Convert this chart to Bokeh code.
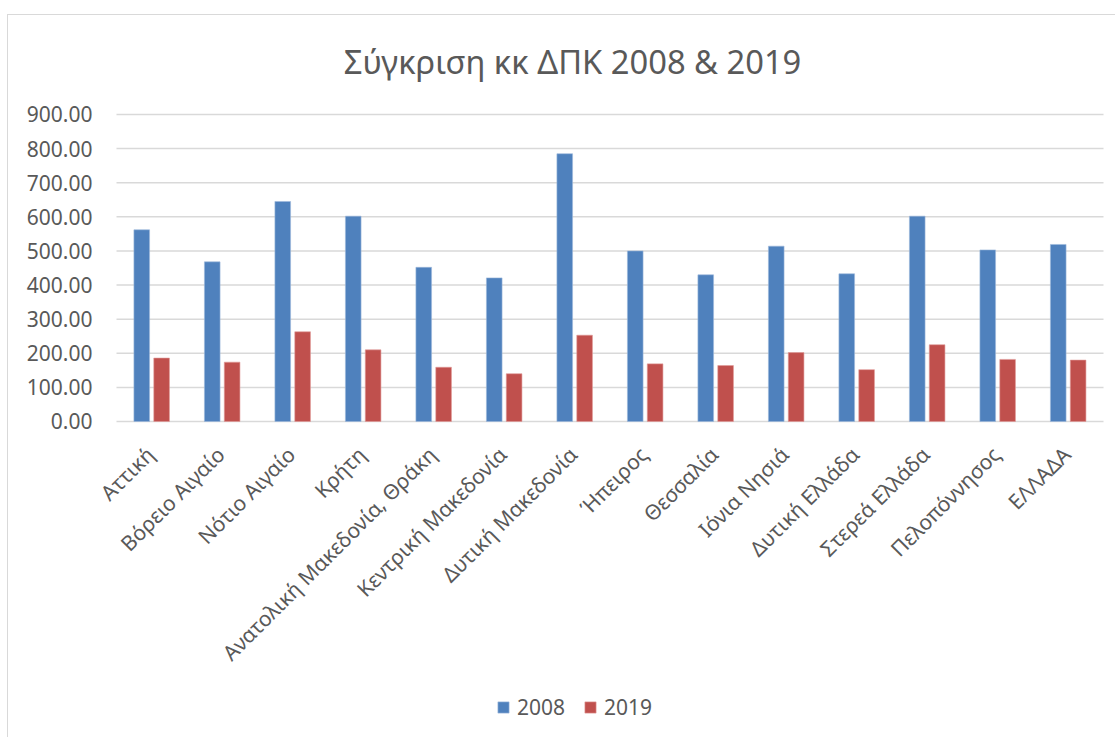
import math
from bokeh.plotting import figure
from bokeh.layouts import column, row
from bokeh.models import (Range1d, NumeralTickFormatter, Legend, LegendItem, Label,
                          FixedTicker, ColumnDataSource, Spacer)
from bokeh.transform import dodge
from bokeh.core.properties import value
from bokeh.embed import file_html
from bokeh.resources import INLINE

regions = ["Αττική", "Βόρειο Αιγαίο", "Νότιο Αιγαίο", "Κρήτη",
           "Ανατολική Μακεδονία, Θράκη", "Κεντρική Μακεδονία", "Δυτική Μακεδονία",
           "Ήπειρος", "Θεσσαλία", "Ιόνια Νησιά", "Δυτική Ελλάδα", "Στερεά Ελλάδα",
           "Πελοπόννησος", "ΕΛΛΑΔΑ"]
v2008 = [562, 468, 645, 602, 452, 421, 785, 500, 430, 514, 433, 602, 503, 519]
v2019 = [186, 174, 263, 210, 159, 140, 253, 169, 164, 202, 152, 225, 182, 180]
series = ["2008", "2019"]
colors = ["#4F81BD", "#C0504D"]
y_ticks = [0, 100, 200, 300, 400, 500, 600, 700, 800, 900]
title_text = "Σύγκριση κκ ΔΠΚ 2008 & 2019"

FONT = "Noto Sans"
GREY = "#595959"
N = len(regions)

# category slots: category i occupies [i, i+1]
src = ColumnDataSource(dict(cat=regions, xc=[i + 0.5 for i in range(N)], a=v2008, b=v2019))
grid_src = ColumnDataSource(dict(y=y_ticks, x0=[0] * len(y_ticks), x1=[N] * len(y_ticks)))

p = figure(width=1108, height=723, x_range=Range1d(-0.2553, N + 0.0993),
           y_range=Range1d(-929.3, 1190.2), title=None,
           output_backend="svg", toolbar_location=None, x_axis_location=None,
           min_border_left=90, min_border_right=6, min_border_top=0, min_border_bottom=0)
p.styles = {"border-left": "1px solid #d9d9d9", "border-top": "1px solid #d9d9d9"}
p.outline_line_color = None
p.xgrid.grid_line_color = None
p.ygrid.grid_line_color = None

# horizontal gridlines spanning the category slots
p.segment(x0="x0", x1="x1", y0="y", y1="y", source=grid_src,
          line_color="#d9d9d9", line_width=1.5)

r1 = p.vbar(x=dodge("xc", -0.142), top="a", width=0.222, source=src,
            fill_color=colors[0], line_color="#9db8dc", line_width=0.6)
r2 = p.vbar(x=dodge("xc", 0.14), top="b", width=0.222, source=src,
            fill_color=colors[1], line_color="#e09a98", line_width=0.6)

# category labels, rotated 45°
p.text(x=dodge("xc", -0.165), y=-56, text="cat", source=src,
       angle=math.pi / 4, text_align="right", text_baseline="top",
       text_font=value(FONT), text_font_size="21px", text_color=GREY)

# chart title
p.add_layout(Label(x=N / 2, y=1055, x_offset=-37.5, text=title_text,
                   text_align="center", text_baseline="middle",
                   text_font=FONT, text_font_size="32.7px", text_color=GREY))

p.yaxis.ticker = FixedTicker(ticks=y_ticks)
p.yaxis.formatter = NumeralTickFormatter(format="0.00")
p.yaxis.axis_line_color = None
p.yaxis.major_tick_line_color = None
p.yaxis.minor_tick_line_color = None
p.yaxis.major_label_standoff = 0
p.yaxis.major_label_text_font = FONT
p.yaxis.major_label_text_font_size = "21px"
p.yaxis.major_label_text_color = GREY

legend = Legend(items=[LegendItem(label=series[0], renderers=[r1]),
                       LegendItem(label=series[1], renderers=[r2])],
                orientation="horizontal", location=(398, 17),
                label_text_font=FONT, label_text_font_size="21px", label_text_color=GREY,
                glyph_width=14, glyph_height=14, label_standoff=7, spacing=18,
                padding=5, margin=0, border_line_color=None, background_fill_alpha=0)
p.add_layout(legend, "center")

layout = column(Spacer(height=14, width=1115),
                row(Spacer(width=7, height=723), p, spacing=0), spacing=0)
open("out.html", "w").write(file_html(layout, INLINE))
